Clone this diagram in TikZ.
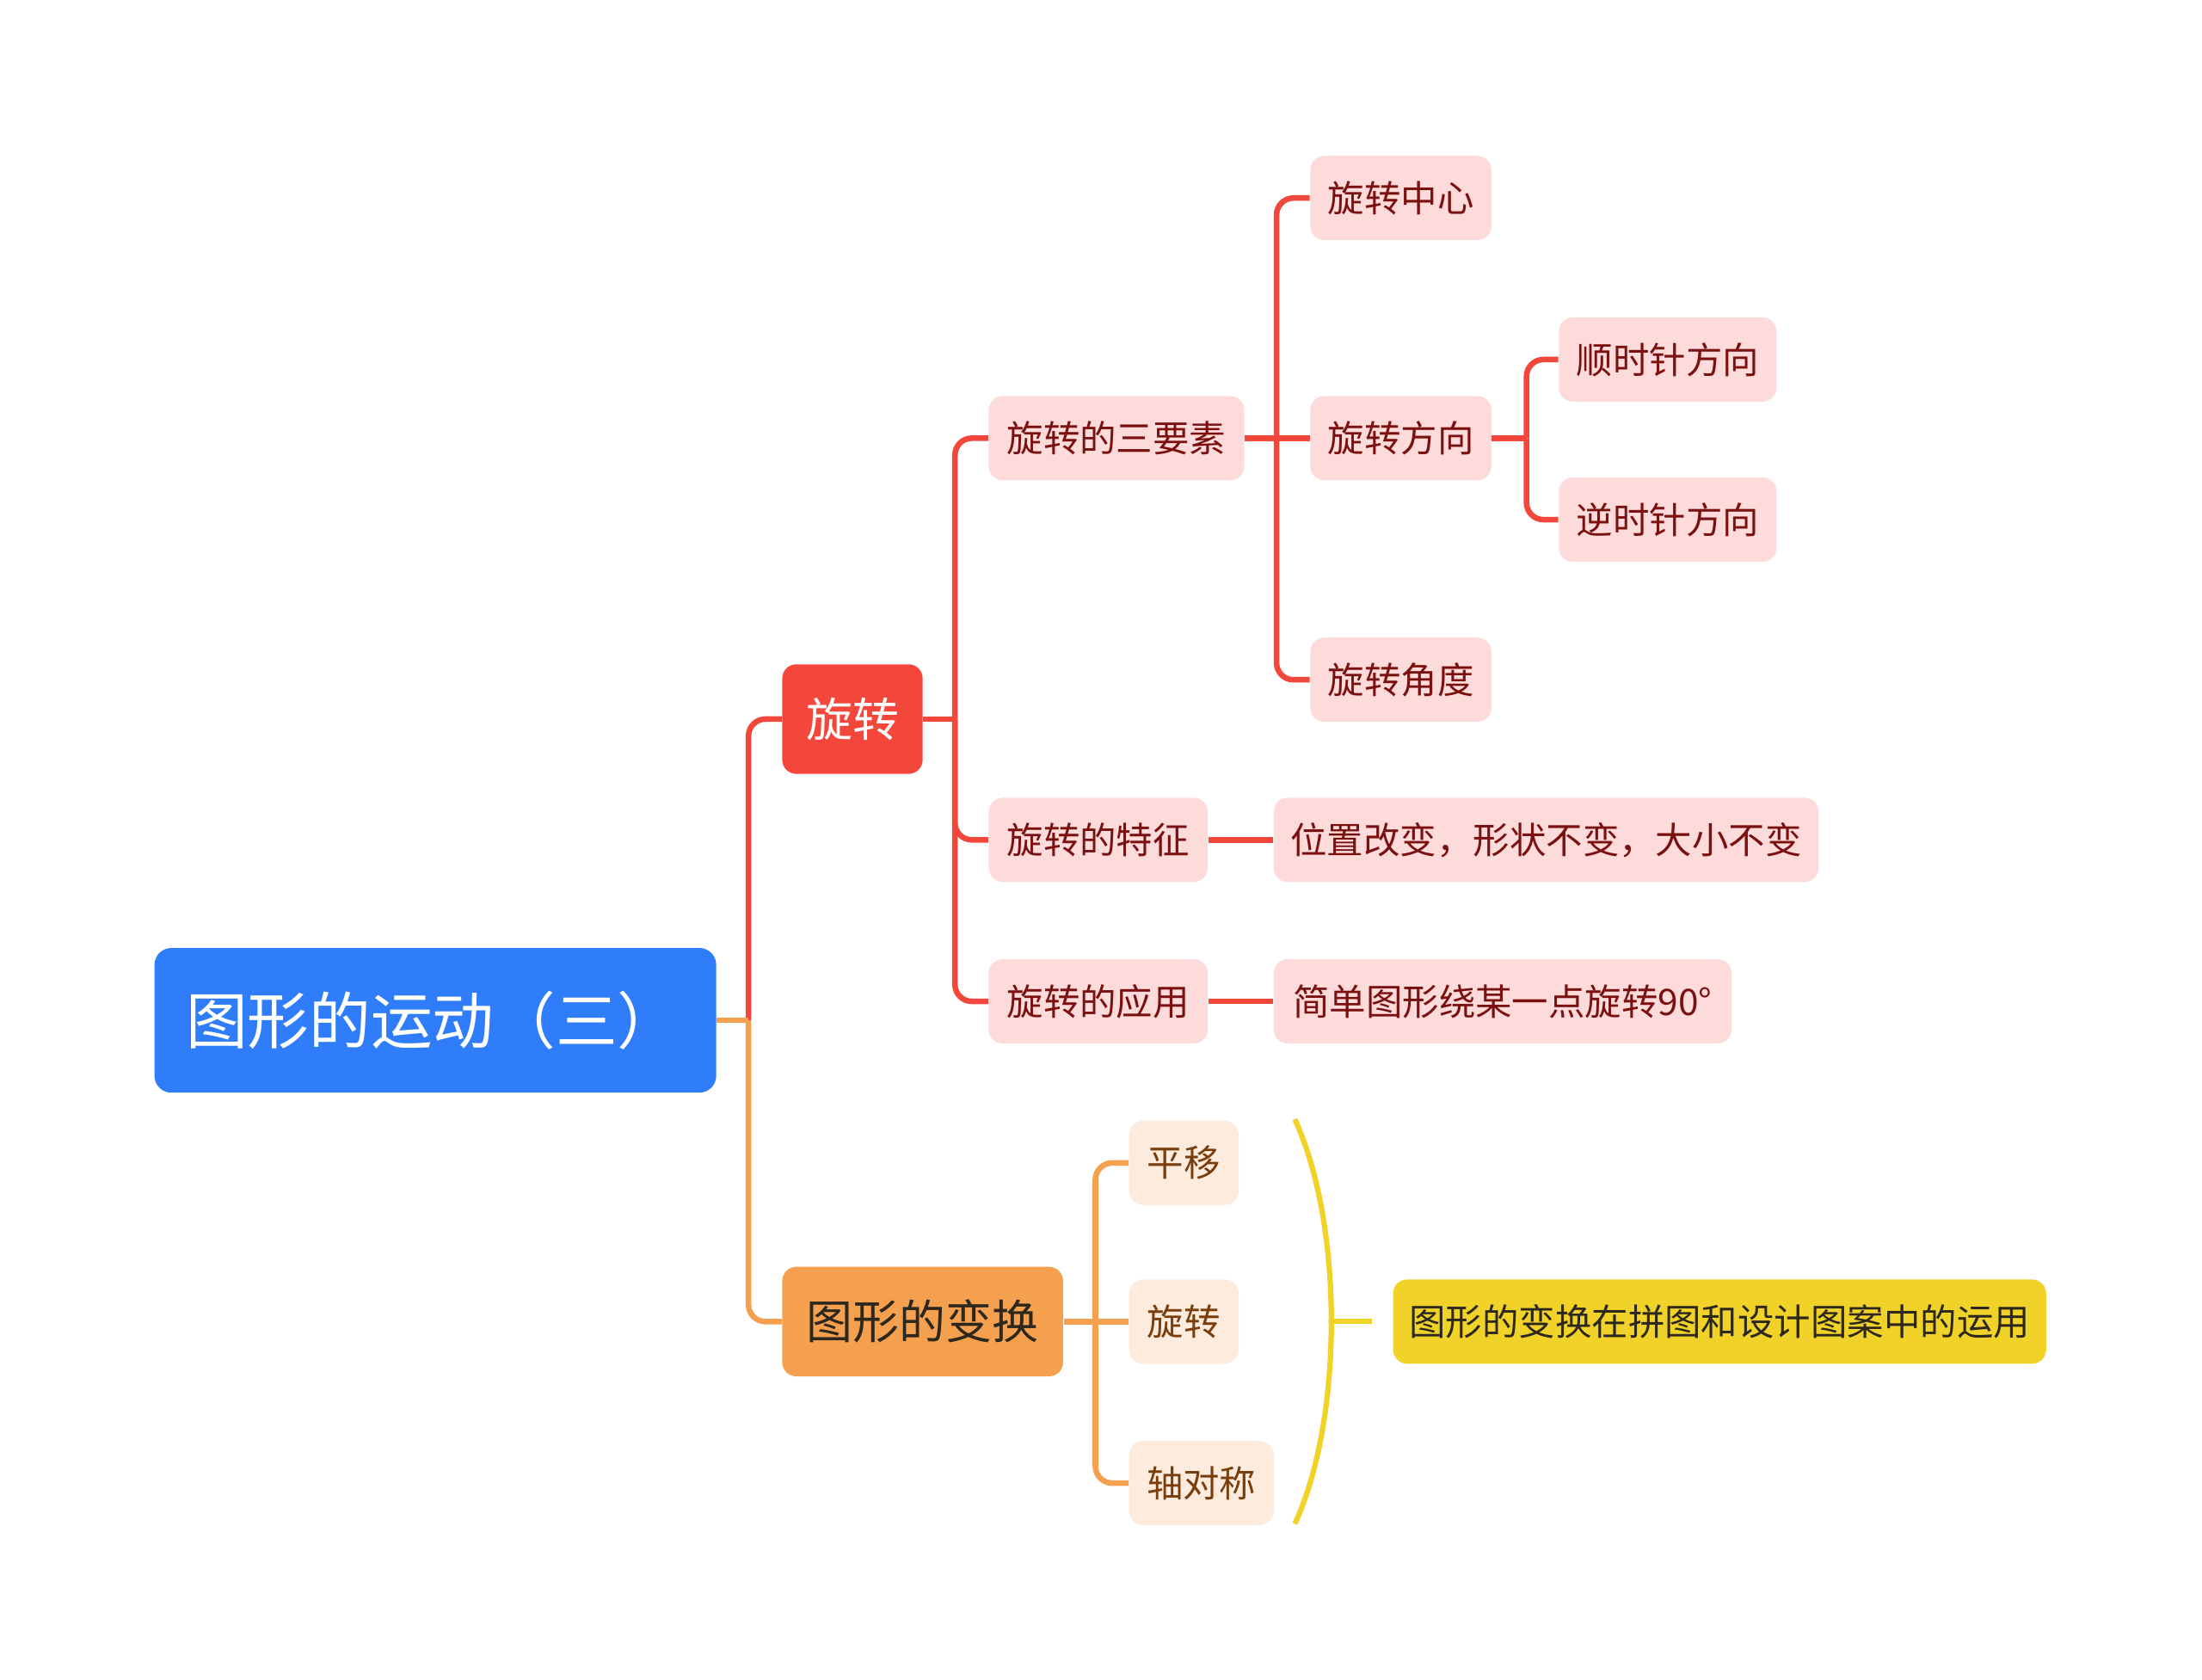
\documentclass[tikz,border=0pt]{standalone}
\usepackage{fontspec}
\newfontfamily\cjk{Noto Sans CJK SC}
\newlength\pxu
\setlength\pxu{0.02cm}
\definecolor{rootblue}{RGB}{47,125,250}
\definecolor{mred}{RGB}{243,71,60}
\definecolor{pinkfill}{RGB}{253,219,218}
\definecolor{redtext}{RGB}{122,16,16}
\definecolor{morange}{RGB}{244,160,79}
\definecolor{orangefill}{RGB}{253,236,222}
\definecolor{browntext}{RGB}{122,62,12}
\definecolor{myellow}{RGB}{240,210,41}
\definecolor{darktext}{RGB}{45,40,30}
\begin{document}
\begin{tikzpicture}[x=0.02cm,y=-0.02cm,
  box/.style={rounded corners=10\pxu, inner sep=0pt, align=center},
  rootbox/.style={box, fill=rootblue, text=white, rounded corners=12\pxu,
    minimum height=103\pxu, font=\cjk\fontsize{25pt}{30pt}\selectfont},
  lvone/.style={box, minimum height=78\pxu, font=\cjk\fontsize{18.8pt}{22pt}\selectfont},
  redone/.style={lvone, fill=mred, text=white},
  orangeone/.style={lvone, fill=morange, text=darktext},
  lvtwo/.style={box, minimum height=60\pxu, font=\cjk\fontsize{14.8pt}{18pt}\selectfont},
  pinkbox/.style={lvtwo, fill=pinkfill, text=redtext},
  peachbox/.style={lvtwo, fill=orangefill, text=browntext},
  yellowbox/.style={lvtwo, fill=myellow, text=darktext},
  redline/.style={draw=mred, line width=4\pxu, rounded corners=12\pxu},
  orangeline/.style={draw=morange, line width=4\pxu, rounded corners=12\pxu},
  yellowline/.style={draw=myellow, line width=3.8\pxu},
]
\path[use as bounding box] (0,0) rectangle (1568,1196);

% nodes
\node[rootbox, minimum width=400\pxu] (root) at (310,726.5) {图形的运动（三）\hspace*{4\pxu}};
\node[redone, minimum width=100\pxu] (rot) at (607,512) {旋转};
\node[orangeone, minimum width=200\pxu] (trans) at (657,941) {图形的变换};

\node[pinkbox, minimum width=182\pxu] (three) at (795,312) {旋转的三要素};
\node[pinkbox, minimum width=156\pxu] (feat) at (782,598) {旋转的特征};
\node[pinkbox, minimum width=156\pxu] (appl) at (782,713) {旋转的应用};
\node[pinkbox, minimum width=388\pxu] (feat1) at (1101,598) {位置改变，形状不变，大小不变};
\node[pinkbox, minimum width=326\pxu] (appl1) at (1070,713) {简单图形绕某一点旋转90°};

\node[pinkbox, minimum width=129\pxu] (center) at (997.5,141) {旋转中心};
\node[pinkbox, minimum width=129\pxu] (dir) at (997.5,312) {旋转方向};
\node[pinkbox, minimum width=129\pxu] (angle) at (997.5,484) {旋转角度};
\node[pinkbox, minimum width=155\pxu] (cw) at (1187.5,256) {顺时针方向};
\node[pinkbox, minimum width=155\pxu] (ccw) at (1187.5,370) {逆时针方向};

\node[peachbox, minimum width=78\pxu] (tr1) at (843,828) {平移};
\node[peachbox, minimum width=78\pxu] (tr2) at (843,941) {旋转};
\node[peachbox, minimum width=103\pxu] (tr3) at (855.5,1056) {轴对称};

\node[yellowbox, minimum width=465\pxu] (use) at (1224.5,941) {图形的变换在拼图和设计图案中的运用};

% junctions
\coordinate (j0) at (533,726.5);
\coordinate (j1) at (680,512);
\coordinate (j2) at (909,312);
\coordinate (j3) at (1087,312);
\coordinate (j4) at (780,941);

% connectors
\draw[redline] (j0) |- (rot.west);
\draw[orangeline] (j0) |- (trans.west);
\draw[orangeline] (root.east) -- (j0);

\draw[redline] (rot.east) -- (j1);
\draw[redline] (j1) |- (three.west);
\draw[redline] (j1) |- (feat.west);
\draw[redline] (j1) |- (appl.west);

\draw[redline] (three.east) -- (dir.west);
\draw[redline] (j2) |- (center.west);
\draw[redline] (j2) |- (angle.west);

\draw[redline] (dir.east) -- (j3);
\draw[redline] (j3) |- (cw.west);
\draw[redline] (j3) |- (ccw.west);

\draw[redline] (feat.east) -- (feat1.west);
\draw[redline] (appl.east) -- (appl1.west);

\draw[orangeline] (trans.east) -- (tr2.west);
\draw[orangeline] (j4) |- (tr1.west);
\draw[orangeline] (j4) |- (tr3.west);

% summary bracket
\coordinate (btop) at (922,797);
\coordinate (bbot) at (922,1085);
\coordinate (btip) at (948,941);
\draw[yellowline] (btop) .. controls (956.7,872) and (956.7,1010) .. (bbot);
\draw[yellowline] (btip) -- ([xshift=-15\pxu]use.west);
\end{tikzpicture}
\end{document}
